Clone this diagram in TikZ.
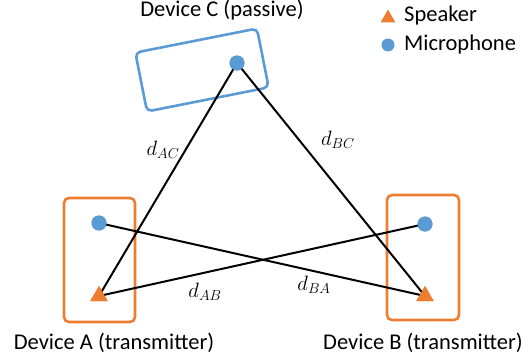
\documentclass[tikz,border=0pt]{standalone}
\usepackage{fontspec}
\setmainfont{Carlito}
\usetikzlibrary{shapes.geometric}
\definecolor{devorange}{HTML}{ED7D31}
\definecolor{devblue}{HTML}{5B9BD5}
\tikzset{
  devbox/.style={draw=devorange, line width=2.6pt, rounded corners=5pt},
  passbox/.style={draw=devblue, line width=2.6pt, rounded corners=5pt},
  mic/.style={circle, fill=devblue, inner sep=0pt, minimum size=15pt},
  spk/.style={regular polygon, regular polygon sides=3, fill=devorange, inner sep=0pt, minimum size=20pt},
  link/.style={line width=2pt, black},
  devlabel/.style={font=\fontsize{22.5}{24}\selectfont, inner sep=0pt},
  dist/.style={font=\fontsize{21}{23}\selectfont, inner sep=0pt},
}
\begin{document}
\begin{tikzpicture}[x=1pt, y=-1pt]
\useasboundingbox (0,0) rectangle (523,362);
% device enclosures
\draw[devbox] (64,198) rectangle (135,322);
\draw[devbox] (387,195) rectangle (459,320);
\draw[passbox, rotate around={11.2:(202,70)}] (140,40) rectangle (264,100);
% microphones and speakers
\node[mic] (ma) at (99,223) {};
\node[mic] (mb) at (425,224) {};
\node[mic] (mc) at (237,63) {};
\node[spk] (sa) at (99,296) {};
\node[spk] (sb) at (425,296) {};
% acoustic paths
\draw[link] (sa.center) -- (mc.center);
\draw[link] (sb.center) -- (mc.center);
\draw[link] (ma.center) -- (sb.center);
\draw[link] (mb.center) -- (sa.center);
% redraw markers on top of the paths
\node[mic] at (ma) {};
\node[mic] at (mb) {};
\node[mic] at (mc) {};
\node[spk] at (sa) {};
\node[spk] at (sb) {};
% distance labels
\node[dist] (lac) at (163,150) {$d_{AC}$};
\node[dist] (lbc) at (338,140) {$d_{BC}$};
\node[dist] (lab) at (205,292) {$d_{AB}$};
\node[dist] (lba) at (314,285) {$d_{BA}$};
% device names
\node[devlabel] (na) at (114,343) {Device A (transmitter)};
\node[devlabel] (nb) at (423,343) {Device B (transmitter)};
\node[devlabel] (nc) at (222,10) {Device C (passive)};
% legend
\node[spk, minimum size=17pt] (lgs) at (388,18) {};
\node[devlabel, anchor=west] (lgst) at (404,15) {Speaker};
\node[mic, minimum size=13pt] (lgm) at (388,45) {};
\node[devlabel, anchor=west] (lgmt) at (404,44) {Microphone};
\end{tikzpicture}
\end{document}
